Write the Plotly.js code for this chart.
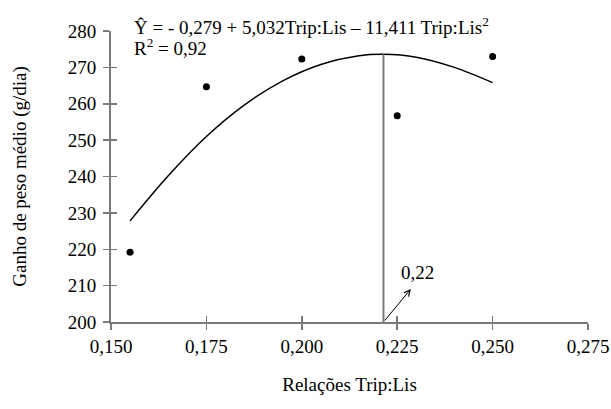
<!DOCTYPE html>
<html>
<head>
<meta charset="utf-8">
<script src="https://cdn.plot.ly/plotly-3.0.1.min.js"></script>
<style>
  html, body { margin: 0; padding: 0; background: #ffffff; }
  #chart { width: 611px; height: 409px; }
</style>
</head>
<body>
<div id="chart"></div>
<script>
// Observed daily weight gain per Trp:Lys ratio
const ratios = [0.155, 0.175, 0.200, 0.225, 0.250];
const gain = [219.2, 264.7, 272.3, 256.7, 273.0];

// Fitted quadratic response, sampled along the fitted curve
const fitX = [0.155, 0.165, 0.175, 0.185, 0.195, 0.205, 0.215, 0.2214, 0.230, 0.240, 0.250];
const fitY = [227.8, 240.2, 251.0, 259.7, 266.3, 270.8, 273.2, 273.6, 272.8, 270.0, 265.8];

// Optimum ratio marker (vertical drop line from the curve maximum)
const optX = [0.2214, 0.2214];
const optY = [200, 273.6];
const optLabel = "0,22";
const arrowTip = [0.2286, 209.1];
const labelPos = [0.2302, 213.6];

// Axis ticks
const xTickVals = [0.150, 0.175, 0.200, 0.225, 0.250, 0.275];
const xTickText = ["0,150", "0,175", "0,200", "0,225", "0,250", "0,275"];
const yTickVals = [200, 210, 220, 230, 240, 250, 260, 270, 280];

const eqLine1 = "Ŷ = - 0,279 + 5,032Trip:Lis – 11,411 Trip:Lis<sup>2</sup>";
const eqLine2 = "R<sup>2</sup> = 0,92";

const FONT = "Liberation Serif, Times New Roman, serif";
const FS = 19;
const AXIS_GREY = "#7a7a7a";

const traces = [
  {
    x: fitX, y: fitY, type: "scatter", mode: "lines",
    line: { color: "#000000", width: 1.5, shape: "spline" },
    hoverinfo: "skip"
  },
  {
    x: optX, y: optY, type: "scatter", mode: "lines",
    line: { color: AXIS_GREY, width: 2 },
    hoverinfo: "skip"
  },
  {
    x: ratios, y: gain, type: "scatter", mode: "markers",
    marker: { color: "#000000", size: 7 },
    hoverinfo: "skip"
  }
];

const baseX = {
  range: [0.15, 0.275],
  tickvals: xTickVals,
  ticktext: xTickText,
  showgrid: false, zeroline: false,
  ticklen: 6, tickwidth: 1.5, tickcolor: AXIS_GREY
};
const baseY = {
  range: [200, 280],
  tickvals: yTickVals,
  showgrid: false, zeroline: false,
  ticklen: 6, tickwidth: 1.5, tickcolor: AXIS_GREY
};

const layout = {
  width: 611, height: 409,
  margin: { l: 111, r: 23, t: 31, b: 87 },
  paper_bgcolor: "#ffffff", plot_bgcolor: "#ffffff",
  font: { family: FONT, size: FS, color: "#000000" },
  showlegend: false,
  xaxis: Object.assign({}, baseX, {
    ticks: "outside",
    showline: true, linecolor: AXIS_GREY, linewidth: 2,
    tickfont: { family: FONT, size: FS, color: "#000000" },
    title: { text: "Relações Trip:Lis", font: { family: FONT, size: FS }, standoff: 22 },
    automargin: false
  }),
  yaxis: Object.assign({}, baseY, {
    ticks: "outside",
    showline: true, linecolor: AXIS_GREY, linewidth: 2,
    ticklabelstandoff: 3,
    tickfont: { family: FONT, size: FS, color: "#000000" },
    title: { text: "Ganho de peso médio (g/dia)", font: { family: FONT, size: FS }, standoff: 36 },
    automargin: false
  }),
  // inner halves of the crossing tick marks
  xaxis2: Object.assign({}, baseX, {
    overlaying: "x", matches: "x", ticks: "inside", showticklabels: false, showline: false
  }),
  yaxis2: Object.assign({}, baseY, {
    overlaying: "y", matches: "y", ticks: "inside", showticklabels: false, showline: false
  }),
  annotations: [
    {
      xref: "paper", yref: "paper", x: 0.043, y: 1.018,
      xanchor: "left", yanchor: "middle", showarrow: false,
      text: eqLine1, font: { family: FONT, size: FS }
    },
    {
      xref: "paper", yref: "paper", x: 0.043, y: 0.944,
      xanchor: "left", yanchor: "middle", showarrow: false,
      text: eqLine2, font: { family: FONT, size: FS }
    },
    {
      xref: "x", yref: "y", x: arrowTip[0], y: arrowTip[1],
      axref: "x", ayref: "y", ax: optX[0], ay: optY[0],
      showarrow: true, arrowhead: 5, arrowsize: 1.2, arrowwidth: 1,
      arrowcolor: "#000000", text: "", standoff: 0, startstandoff: 0
    },
    {
      xref: "x", yref: "y", x: labelPos[0], y: labelPos[1],
      xanchor: "center", yanchor: "middle", showarrow: false,
      text: optLabel, font: { family: FONT, size: FS }
    }
  ]
};

// invisible carrier so the overlay axes get drawn
traces.push({ x: [0.2], y: [240], xaxis: "x2", yaxis: "y2", mode: "markers",
  marker: { opacity: 0 }, hoverinfo: "skip", type: "scatter" });

Plotly.newPlot("chart", traces, layout, { displayModeBar: false, staticPlot: true });
</script>
</body>
</html>
